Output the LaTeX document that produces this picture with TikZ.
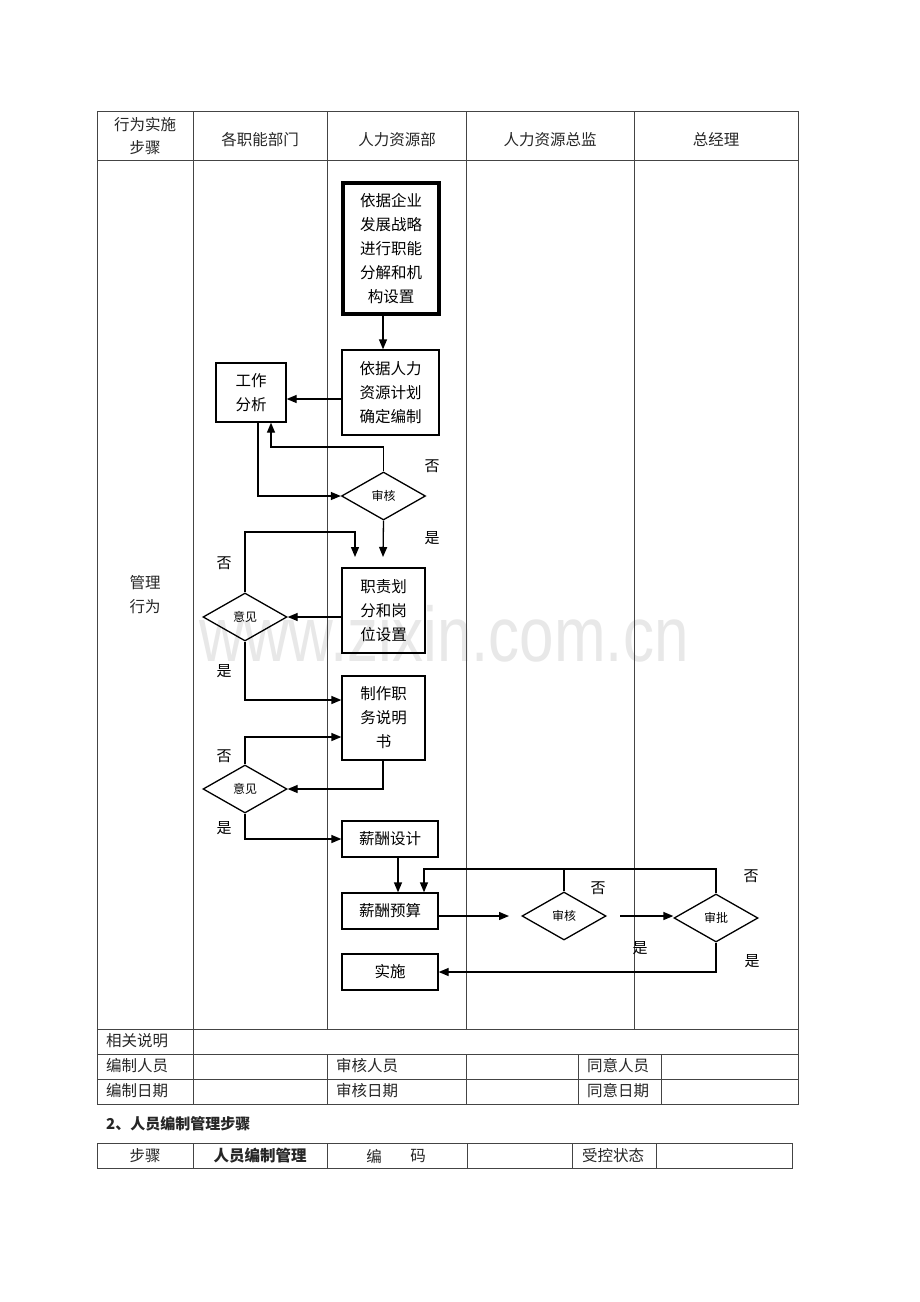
\documentclass[tikz,border=0pt]{standalone}
\usepackage{fontspec}
\setmainfont{Noto Sans CJK SC}
\newfontfamily\wmfont{Liberation Sans}
\usetikzlibrary{arrows.meta,shapes.geometric}
\definecolor{tline}{HTML}{444444}
\definecolor{wm}{HTML}{E8E8E8}
\begin{document}
\begin{tikzpicture}[x=1pt,y=-1pt,
  txt/.style={font=\fontsize{15.5}{24}\selectfont, inner sep=0pt, text=black!85},
  ltxt/.style={txt, anchor=west},
  stepbox/.style={draw, line width=1.3pt, inner sep=0pt, align=center, font=\fontsize{15.5}{24}\selectfont},
  dia/.style={draw, line width=1.3pt, shape=diamond, inner sep=0pt, minimum width=84pt, minimum height=48pt, font=\fontsize{12}{14}\selectfont},
  flow/.style={line width=1.3pt},
  arr/.style={line width=1.3pt, -{Triangle[length=10pt,width=8pt]}},
  grid/.style={draw=tline, line width=0.8pt},
  lab/.style={font=\fontsize{15}{18}\selectfont, inner sep=0pt}
]
\useasboundingbox (0,0) rectangle (920,1302);
\fill[white] (0,0) rectangle (920,1302);

% watermark
\node[text=wm, font=\wmfont\fontsize{62}{62}\selectfont, yscale=1.25, inner sep=0pt] (wmk) at (444,634) {www.zixin.com.cn};

% main table
\draw[grid] (97,111) rectangle (798,1104);
\draw[grid] (97,160) -- (798,160);
\foreach \x in {193,327,466,634} \draw[grid] (\x,111) -- (\x,1029);
\draw[grid] (97,1029) -- (798,1029);
\draw[grid] (97,1054) -- (798,1054);
\draw[grid] (97,1079) -- (798,1079);
\draw[grid] (193,1029) -- (193,1104);
\foreach \x in {327,466,578,661} \draw[grid] (\x,1054) -- (\x,1104);

% header texts
\node[txt] (h1a) at (145,125) {行为实施};
\node[txt] (h1b) at (145,148) {步骤};
\node[txt] (h2) at (260,140) {各职能部门};
\node[txt] (h3) at (397,140) {人力资源部};
\node[txt] (h4) at (550,140) {人力资源总监};
\node[txt] (h5) at (716,140) {总经理};
\node[txt] (m1) at (145,583) {管理};
\node[txt] (m2) at (145,607) {行为};

% lower rows
\node[ltxt] (r1) at (106,1041) {相关说明};
\node[ltxt] (r2) at (106,1066) {编制人员};
\node[ltxt] (r3) at (336,1066) {审核人员};
\node[ltxt] (r4) at (587,1066) {同意人员};
\node[ltxt] (r5) at (106,1091) {编制日期};
\node[ltxt] (r6) at (336,1091) {审核日期};
\node[ltxt] (r7) at (587,1091) {同意日期};

% heading 2
\node[ltxt, font=\bfseries\fontsize{15}{18}\selectfont] (sec) at (106,1124) {2、人员编制管理步骤};

% second table
\draw[grid] (97,1143) rectangle (792,1168);
\foreach \x in {193,327,467,572,656} \draw[grid] (\x,1143) -- (\x,1168);
\node[txt] (s1) at (145,1156) {步骤};
\node[txt, font=\bfseries\fontsize{15.5}{18}\selectfont] (s2) at (260,1156) {人员编制管理};
\node[txt] (s3a) at (374,1156) {编};
\node[txt] (s3b) at (418,1156) {码};
\node[txt] (s4) at (613,1156) {受控状态};

% flow boxes
\node[stepbox, line width=3.5pt, minimum width=96pt, minimum height=131pt] (b1) at (391,248.5) {依据企业\\发展战略\\进行职能\\分解和机\\构设置};
\node[stepbox, minimum width=97pt, minimum height=85pt] (b2) at (390.5,392.5) {依据人力\\资源计划\\确定编制};
\node[stepbox, minimum width=70pt, minimum height=59pt] (gz) at (251,392.5) {工作\\分析};
\node[dia] (sh1) at (383.5,496) {审核};
\node[stepbox, minimum width=83pt, minimum height=85pt] (zz) at (383.5,610.5) {职责划\\分和岗\\位设置};
\node[dia] (yj1) at (245,617) {意见};
\node[stepbox, minimum width=83pt, minimum height=84pt] (zw) at (383.5,718) {制作职\\务说明\\书};
\node[dia] (yj2) at (245,789) {意见};
\node[stepbox, minimum width=96pt, minimum height=36pt] (xc) at (390,839) {薪酬设计};
\node[stepbox, minimum width=96pt, minimum height=36pt] (xy) at (390,911) {薪酬预算};
\node[dia] (sh2) at (564,916) {审核};
\node[dia] (sp) at (716,918) {审批};
\node[stepbox, minimum width=96pt, minimum height=36pt] (ss) at (390,972) {实施};

% free ends
\coordinate (e1) at (383,557);
\coordinate (e2) at (355,557);
\coordinate (e3) at (509,916);
\coordinate (e4) at (620,916);

% connectors
\draw[arr] (383,0 |- b1.south) -- (383,0 |- b2.north);
\draw[arr] (b2.west |- 0,399) -- (gz.east |- 0,399);
\draw[arr] (sh1.north) -- (383.5,447) -- (271,447) -- (271,0 |- gz.south);
\draw[arr] (258,0 |- gz.south) |- (sh1.west);
\draw[arr] (sh1.south) -- (e1);
\draw[arr] (yj1.north) |- (355,532) -- (e2);
\draw[arr] (zz.west |- yj1.east) -- (yj1.east);
\draw[arr] (yj1.south) |- (zw.west |- 0,700);
\draw[arr] (383,0 |- zw.south) |- (yj2.east);
\draw[arr] (yj2.north) |- (zw.west |- 0,737);
\draw[arr] (yj2.south) |- (xc.west);
\draw[arr] (398,0 |- xc.south) -- (398,0 |- xy.north);
\draw[arr] (xy.east |- e3) -- (e3);
\draw[arr] (e4) -- (sp.west |- e4);
\draw[arr] (sp.north) |- (424,869) -- (424,0 |- xy.north);
\draw[flow] (sh2.north) -- (564,869);
\draw[arr] (sp.south) |- (ss.east);

% yes/no labels
\node[lab] (n1) at (432,466) {否};
\node[lab] (y1) at (432,538) {是};
\node[lab] (n2) at (224,563) {否};
\node[lab] (y2) at (224,671) {是};
\node[lab] (n3) at (224,756) {否};
\node[lab] (y3) at (224,828) {是};
\node[lab] (n4) at (598,888) {否};
\node[lab] (n5) at (751,876) {否};
\node[lab] (y4) at (640,948) {是};
\node[lab] (y5) at (752,961) {是};
\end{tikzpicture}
\end{document}
